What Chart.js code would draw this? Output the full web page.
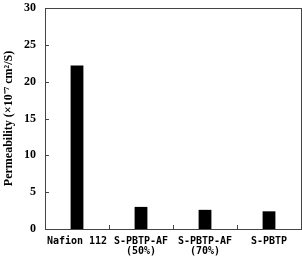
<!DOCTYPE html>
<html>
<head>
<meta charset="utf-8">
<script src="https://cdn.jsdelivr.net/npm/chart.js@4"></script>
<style>
  html, body { margin: 0; padding: 0; background: #fff; }
  canvas { display: block; }
</style>
</head>
<body>
<canvas id="perm-canvas" width="302" height="257"></canvas>
<script>
const categories = [['Nafion 112'], ['S-PBTP-AF', '(50%)'], ['S-PBTP-AF', '(70%)'], ['S-PBTP']];
const permeability = [22.2, 3.0, 2.6, 2.4];
const yTicks = [0, 5, 10, 15, 20, 25, 30];

const frameColor = '#444';

// box around the plot plus inward tick marks
const framePlugin = {
  id: 'frame',
  afterDraw(chart) {
    const { ctx, chartArea: a, scales } = chart;
    ctx.save();
    ctx.strokeStyle = frameColor;
    ctx.lineWidth = 1;
    ctx.strokeRect(a.left + 0.5, a.top + 0.5, a.right - a.left, a.bottom - a.top);
    ctx.beginPath();
    yTicks.forEach(v => {
      const py = Math.round(scales.y.getPixelForValue(v)) + 0.5;
      ctx.moveTo(a.left, py);
      ctx.lineTo(a.left + 4, py);
    });
    const x = scales.x;
    for (let i = 1; i < categories.length; i++) {
      const px = Math.round((x.getPixelForValue(i - 1) + x.getPixelForValue(i)) / 2) + 0.5;
      ctx.moveTo(px, a.bottom);
      ctx.lineTo(px, a.bottom - 4);
    }
    ctx.stroke();
    ctx.restore();
  }
};

new Chart(document.getElementById('perm-canvas'), {
  type: 'bar',
  data: {
    labels: categories,
    datasets: [{
      data: permeability,
      backgroundColor: '#000',
      barPercentage: 0.2,
      categoryPercentage: 1
    }]
  },
  options: {
    responsive: false,
    animation: false,
    layout: { padding: { top: 8, right: 1, left: 0, bottom: 0 } },
    plugins: { legend: { display: false }, tooltip: { enabled: false } },
    scales: {
      x: {
        offset: true,
        grid: { display: false, drawTicks: false },
        border: { display: false },
        ticks: {
          color: '#000',
          padding: 7,
          maxRotation: 0,
          autoSkip: false,
          font: { family: '"DejaVu Sans Mono"', size: 10, weight: 'bold', lineHeight: 1.0 }
        },
        afterFit(s) { s.height = 28; s.paddingLeft = 0; s.paddingRight = 0; }
      },
      y: {
        min: 0,
        max: 30,
        grid: { display: false, drawTicks: false },
        border: { display: false },
        ticks: {
          stepSize: 5,
          color: '#000',
          padding: 9,
          font: { family: '"Liberation Serif"', size: 12, weight: 'bold' }
        },
        title: {
          display: true,
          text: 'Permeability (×10⁻⁷ cm²/S)',
          color: '#000',
          padding: { top: 2, bottom: 0 },
          font: { family: '"Liberation Serif"', size: 12, weight: 'bold' }
        },
        afterFit(s) { s.width = 45; s.paddingTop = 0; s.paddingBottom = 0; }
      }
    }
  },
  plugins: [framePlugin]
});
</script>
</body>
</html>
